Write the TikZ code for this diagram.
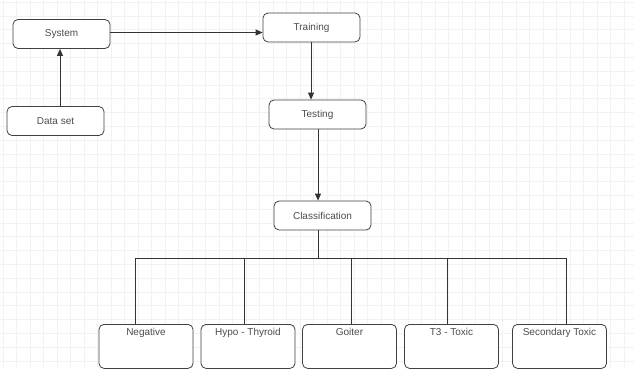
\documentclass[tikz,border=0pt]{standalone}
\usepackage{fontspec}
\setmainfont{Liberation Sans}
\usetikzlibrary{arrows.meta,positioning}

\begin{document}
\begin{tikzpicture}[x=1pt,y=-1pt,>={Triangle[length=7pt,width=6pt]},
  thick,line width=0.8pt,
  flow box/.style={rectangle,rounded corners=5pt,draw=black!75,fill=white,
    font=\fontsize{10}{12}\selectfont,text=black!70,
    minimum width=97pt,minimum height=29pt,inner sep=2pt},
  class box/.style={flow box,minimum width=94pt,minimum height=0pt,
    text height=8pt,text depth=30pt,inner ysep=3pt},
  link/.style={draw=black!80},
  grid line/.style={draw=black!5,line width=0.5pt}]

  \useasboundingbox (0,0) rectangle (634,368);
  % faint paper grid
  \foreach \gx in {0,...,47} \draw[grid line] (3+13.5*\gx,0) -- (3+13.5*\gx,368);
  \foreach \gy in {0,...,26} \draw[grid line] (0,2+13.8*\gy) -- (634,2+13.8*\gy);

  \node[flow box] (sys) at (61.5,34) {System};
  \node[flow box] (data) at (55.5,121) {Data set};
  \node[flow box] (train) at (311.5,27.5) {Training};
  \node[flow box] (test) at (317.5,114.5) {Testing};
  \node[flow box] (cls) at (322.5,215.5) {Classification};

  \node[class box,anchor=north] (neg) at (146,324) {Negative};
  \node[class box,anchor=north] (hypo) at (248,324) {Hypo - Thyroid};
  \node[class box,anchor=north] (goi) at (349.5,324) {Goiter};
  \node[class box,anchor=north] (tt) at (451.5,324) {T3 - Toxic};
  \node[class box,anchor=north] (sec) at (559.5,324) {Secondary Toxic};

  \coordinate (bus) at (318,258);

  %Data set up to System
  \draw[link,->] (data.north -| 60,0) -- (sys.south -| 60,0);
  %System across to Training
  \draw[link,->] (sys.east |- 0,32.5) -- (train.west |- 0,32.5);
  %Training down to Testing, Testing down to Classification
  \draw[link,->] (train.south -| 311,0) -- (test.north -| 311,0);
  \draw[link,->] (test.south -| 318,0) -- (cls.north -| 318,0);

  %Classification splits into the five classes
  \draw[link] (cls.south -| bus) -- (bus);
  \draw[link] (bus -| 135,0) -- (bus -| 566,0);
  \draw[link] (bus -| 135,0) -- (neg.north -| 135,0);
  \draw[link] (bus -| 244,0) -- (hypo.north -| 244,0);
  \draw[link] (bus -| 351,0) -- (goi.north -| 351,0);
  \draw[link] (bus -| 447,0) -- (tt.north -| 447,0);
  \draw[link] (bus -| 566,0) -- (sec.north -| 566,0);
\end{tikzpicture}
\end{document}
